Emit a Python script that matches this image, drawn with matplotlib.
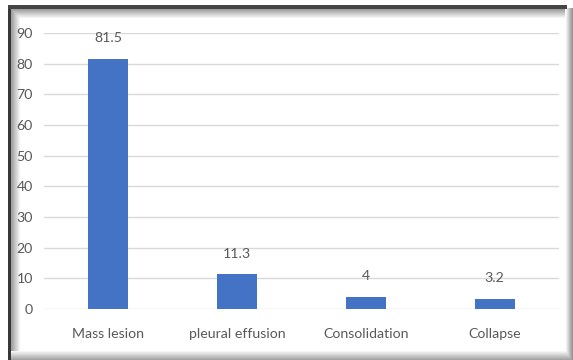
import numpy as np
import matplotlib
matplotlib.use("Agg")
import matplotlib.pyplot as plt

categories = ["Mass lesion", "pleural effusion", "Consolidation", "Collapse"]
values = [81.5, 11.3, 4, 3.2]
value_labels = ["81.5", "11.3", "4", "3.2"]
yticks = [0, 10, 20, 30, 40, 50, 60, 70, 80, 90]

W, H = 573, 360
fig = plt.figure(figsize=(W / 100, H / 100), dpi=100, facecolor="white")

# Framed panel with a dark top/left edge and soft drop shadow
bg = np.ones((H, W))
x0, y0 = 8, 5
bg[y0:, x0:x0 + 3] = 0.22
bg[y0:y0 + 4, x0:W - 6] = 0.27
for i in range(9):
    v = 0.62 + 0.042 * i
    bg[y0 + 4 + i, x0 + 3 + i:W - 8] = np.minimum(bg[y0 + 4 + i, x0 + 3 + i:W - 8], v)
    bg[y0 + 4 + i:H - 9, x0 + 3 + i] = np.minimum(bg[y0 + 4 + i:H - 9, x0 + 3 + i], v)
for i in range(7):
    v = 1.0 - 0.06 * (i + 1)
    bg[y0 + 3:, W - 7 + i] = np.minimum(bg[y0 + 3:, W - 7 + i], v)
for i in range(9):
    v = 1.0 - 0.04 * (i + 1)
    bg[H - 9 + i, x0 + 3:] = np.minimum(bg[H - 9 + i, x0 + 3:], v)
bax = fig.add_axes([0, 0, 1, 1])
bax.imshow(bg, cmap="gray", vmin=0, vmax=1, extent=(0, W, H, 0), interpolation="bilinear")
bax.set_xlim(0, W)
bax.set_ylim(H, 0)
bax.axis("off")

fam = ["Lato", "DejaVu Sans"]
txt = "#595959"
fs = 10.2

ax = fig.add_axes([44 / W, 51 / H, (559 - 44) / W, (309 - 33) / H])
ax.patch.set_alpha(0)
x = np.arange(len(categories))
ax.bar(x, values, width=0.31, color="#4472C4", zorder=3)
ax.set_xlim(-0.5, len(categories) - 0.5)
ax.set_ylim(0, 90)
ax.set_yticks(yticks)
ax.set_yticklabels([str(t) for t in yticks], family=fam, fontsize=fs, color=txt)
ax.set_xticks(x)
ax.set_xticklabels(categories, family=fam, fontsize=fs, color=txt)
ax.tick_params(axis="both", length=0)
ax.tick_params(axis="y", pad=8)
ax.tick_params(axis="x", pad=14)
ax.grid(axis="y", color="#d9d9d9", linewidth=1, zorder=0)
for s in ax.spines.values():
    s.set_visible(False)

for xi, v, lab in zip(x, values, value_labels):
    ax.annotate(lab, (xi, v), xytext=(0, 15), textcoords="offset points",
                ha="center", va="center", family=fam, fontsize=fs, color=txt)

fig.savefig("out.png", dpi=100, facecolor="white")
